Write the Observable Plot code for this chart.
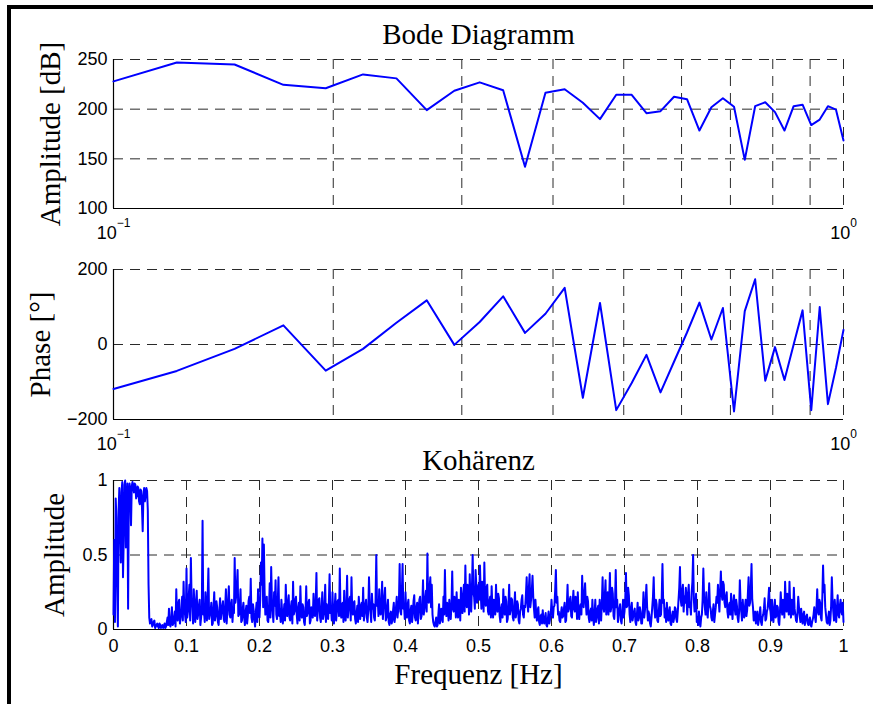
<!DOCTYPE html>
<html><head><meta charset="utf-8">
<script src="https://cdn.jsdelivr.net/npm/d3@7"></script>
<script src="https://cdn.jsdelivr.net/npm/@observablehq/plot@0.6"></script>
<style>
body{margin:0;background:#fff;}
#wrap{position:relative;width:873px;height:704px;overflow:hidden;background:#fff;}
#frame{position:absolute;left:7px;top:5px;right:0;bottom:0;border-left:4px solid #000;border-top:4px solid #000;}
.panel{position:absolute;left:0;}
.panel svg{overflow:visible;}
</style></head><body>
<div id="wrap"><div id="frame"></div>
<div class="panel" id="p1" style="top:0px"></div>
<div class="panel" id="p2" style="top:250px"></div>
<div class="panel" id="p3" style="top:440px"></div>
</div>
<script>
// ---- data ----
const bodeFreq = [0.1, 0.1221, 0.1465, 0.1709, 0.1953, 0.2197, 0.2441, 0.2686, 0.2930, 0.3174, 0.3418, 0.3662, 0.3906, 0.4150, 0.4395, 0.4639, 0.4883, 0.5127, 0.5371, 0.5615, 0.5859, 0.6104, 0.6348, 0.6592, 0.6836, 0.7080, 0.7324, 0.7568, 0.7813, 0.8057, 0.8301, 0.8545, 0.8789, 0.9033, 0.9277, 0.9521, 0.9766, 1.0];
const ampDb = [228, 247, 245, 224.5, 221, 235, 231, 199, 218.5, 227, 219, 142, 216.5, 220, 206.5, 190, 214.5, 214.5, 196, 198, 212.5, 210, 178.5, 202, 211, 202.5, 149, 203, 207, 197, 178.5, 203, 204.5, 184, 189.5, 203, 199.5, 168.5];
const phaseDeg = [-118.7, -70.5, -11.6, 51, -69.6, -11.6, 58, 117.8, -1, 60, 128.5, 31, 82, 151, -142, 110.6, -175, -102.6, -27.6, -127.6, -46, 32, 111.6, 13.4, 97.3, -178.5, 89, 174, -96.4, -7, -94.6, 0, 91, -175, 100, -159, -62, 39];

const cohStep = 0.001;
const cohValues = [
0.10,0.60,0.05,0.88,0.75,0.30,0.02,0.80,0.95,0.70,0.45,0.92,0.99,0.35,0.60,0.97,1.00,0.55,0.85,0.98,0.14,0.90,0.98,0.93,0.70,0.96,0.99,0.95,0.92,0.98,0.97,0.88,0.90,0.96,0.95,0.86,0.84,0.94,0.93,0.82,0.66,0.90,0.95,0.86,0.90,0.95,0.93,0.80,0.30,0.08,
0.04,0.06,0.07,0.02,0.03,0.05,0.06,0.01,0.02,0.03,0.04,0.02,0.01,0.04,0.03,0.01,0.02,0.03,0.01,0.02,0.04,0.01,0.02,0.05,0.08,0.03,0.14,0.04,0.02,0.06,0.15,0.03,0.04,0.08,0.12,0.02,0.27,0.10,0.06,0.18,0.20,0.04,0.08,0.12,0.22,0.06,0.32,0.14,0.10,0.05,
0.41,0.08,0.12,0.22,0.30,0.06,0.48,0.20,0.15,0.04,0.27,0.14,0.05,0.18,0.26,0.07,0.10,0.16,0.20,0.03,0.08,0.15,0.73,0.10,0.12,0.05,0.25,0.14,0.06,0.22,0.41,0.07,0.10,0.12,0.18,0.03,0.04,0.15,0.25,0.06,0.09,0.19,0.15,0.05,0.03,0.12,0.21,0.07,0.11,0.16,
0.19,0.07,0.05,0.15,0.27,0.04,0.12,0.20,0.29,0.10,0.08,0.17,0.20,0.05,0.14,0.11,0.48,0.18,0.22,0.30,0.40,0.09,0.10,0.16,0.27,0.05,0.06,0.14,0.18,0.08,0.03,0.12,0.16,0.04,0.09,0.19,0.22,0.11,0.34,0.08,0.05,0.17,0.13,0.06,0.02,0.12,0.18,0.05,0.27,0.10,
0.08,0.20,0.45,0.30,0.61,0.15,0.57,0.25,0.10,0.18,0.22,0.06,0.05,0.14,0.31,0.08,0.42,0.20,0.12,0.05,0.25,0.16,0.33,0.10,0.07,0.18,0.35,0.09,0.14,0.05,0.20,0.12,0.04,0.10,0.17,0.06,0.30,0.14,0.09,0.18,0.23,0.08,0.06,0.15,0.19,0.04,0.32,0.10,0.12,0.20,
0.22,0.10,0.04,0.14,0.18,0.06,0.29,0.12,0.08,0.17,0.15,0.05,0.03,0.12,0.29,0.09,0.11,0.18,0.20,0.04,0.06,0.15,0.14,0.08,0.24,0.11,0.09,0.19,0.38,0.06,0.13,0.20,0.21,0.08,0.05,0.14,0.25,0.07,0.10,0.16,0.30,0.05,0.17,0.09,0.07,0.18,0.37,0.11,0.15,0.06,
0.25,0.08,0.04,0.15,0.24,0.06,0.12,0.19,0.20,0.09,0.41,0.12,0.08,0.17,0.18,0.05,0.26,0.10,0.06,0.16,0.36,0.08,0.14,0.20,0.22,0.06,0.35,0.13,0.10,0.18,0.19,0.07,0.04,0.11,0.16,0.05,0.22,0.14,0.07,0.16,0.18,0.09,0.28,0.06,0.11,0.17,0.20,0.08,0.05,0.13,
0.35,0.18,0.12,0.05,0.24,0.14,0.17,0.08,0.06,0.20,0.50,0.16,0.20,0.09,0.27,0.12,0.10,0.19,0.32,0.07,0.15,0.22,0.28,0.06,0.08,0.15,0.20,0.05,0.03,0.10,0.12,0.04,0.06,0.13,0.18,0.05,0.09,0.15,0.22,0.08,0.13,0.19,0.44,0.12,0.10,0.25,0.44,0.14,0.16,0.07,
0.25,0.12,0.08,0.17,0.20,0.06,0.04,0.13,0.16,0.05,0.10,0.19,0.23,0.08,0.06,0.15,0.18,0.04,0.12,0.20,0.22,0.07,0.09,0.16,0.33,0.10,0.14,0.21,0.26,0.12,0.51,0.20,0.18,0.28,0.35,0.15,0.30,0.10,0.05,0.03,0.02,0.05,0.08,0.02,0.03,0.10,0.17,0.04,0.06,0.14,
0.12,0.05,0.22,0.10,0.40,0.15,0.09,0.18,0.16,0.06,0.20,0.11,0.07,0.17,0.39,0.14,0.12,0.22,0.20,0.08,0.25,0.13,0.08,0.20,0.18,0.06,0.28,0.15,0.11,0.24,0.30,0.12,0.43,0.20,0.15,0.30,0.26,0.10,0.37,0.18,0.12,0.28,0.50,0.25,0.22,0.14,0.40,0.30,0.18,0.26,
0.30,0.20,0.43,0.25,0.14,0.32,0.28,0.12,0.45,0.22,0.16,0.28,0.30,0.12,0.10,0.19,0.22,0.08,0.29,0.15,0.08,0.20,0.18,0.10,0.30,0.16,0.12,0.24,0.21,0.09,0.05,0.14,0.17,0.08,0.27,0.13,0.10,0.22,0.19,0.05,0.07,0.16,0.30,0.10,0.13,0.21,0.20,0.08,0.06,0.15,
0.25,0.08,0.11,0.19,0.17,0.06,0.04,0.12,0.14,0.20,0.23,0.10,0.08,0.16,0.15,0.24,0.35,0.18,0.12,0.28,0.37,0.15,0.20,0.26,0.36,0.22,0.14,0.08,0.20,0.11,0.06,0.13,0.15,0.05,0.03,0.09,0.10,0.04,0.13,0.06,0.04,0.08,0.11,0.03,0.02,0.07,0.12,0.04,0.07,0.10,
0.20,0.12,0.08,0.15,0.16,0.26,0.40,0.18,0.22,0.10,0.12,0.06,0.05,0.11,0.15,0.08,0.09,0.14,0.18,0.05,0.06,0.16,0.30,0.12,0.14,0.20,0.22,0.09,0.08,0.18,0.26,0.14,0.12,0.22,0.19,0.07,0.25,0.13,0.07,0.15,0.17,0.10,0.36,0.20,0.15,0.24,0.31,0.18,0.10,0.22,
0.19,0.08,0.05,0.12,0.14,0.06,0.20,0.09,0.03,0.10,0.20,0.05,0.08,0.14,0.16,0.04,0.20,0.12,0.06,0.18,0.35,0.15,0.12,0.22,0.33,0.10,0.18,0.25,0.10,0.20,0.38,0.12,0.15,0.28,0.24,0.09,0.07,0.18,0.40,0.15,0.20,0.05,0.10,0.14,0.17,0.06,0.04,0.11,0.20,0.08,
0.12,0.20,0.38,0.15,0.16,0.28,0.23,0.10,0.05,0.14,0.18,0.06,0.09,0.12,0.14,0.05,0.03,0.10,0.18,0.06,0.08,0.15,0.12,0.04,0.04,0.12,0.25,0.08,0.13,0.20,0.30,0.15,0.06,0.12,0.10,0.04,0.02,0.08,0.15,0.22,0.35,0.14,0.08,0.20,0.17,0.06,0.05,0.12,0.20,0.09,
0.10,0.22,0.44,0.18,0.20,0.08,0.14,0.05,0.18,0.10,0.06,0.12,0.15,0.04,0.03,0.09,0.12,0.05,0.08,0.15,0.14,0.07,0.05,0.12,0.20,0.28,0.42,0.20,0.16,0.26,0.30,0.12,0.22,0.18,0.28,0.20,0.10,0.24,0.30,0.15,0.18,0.10,0.25,0.32,0.50,0.20,0.12,0.14,0.24,0.05,
0.06,0.03,0.12,0.05,0.02,0.08,0.10,0.20,0.41,0.22,0.15,0.10,0.25,0.12,0.08,0.18,0.31,0.16,0.14,0.08,0.06,0.12,0.17,0.05,0.10,0.15,0.22,0.18,0.30,0.20,0.12,0.26,0.39,0.24,0.20,0.32,0.30,0.18,0.15,0.22,0.25,0.12,0.08,0.16,0.18,0.10,0.24,0.14,0.07,0.18,
0.23,0.14,0.10,0.20,0.16,0.08,0.05,0.12,0.33,0.18,0.12,0.06,0.20,0.10,0.08,0.15,0.20,0.09,0.13,0.24,0.35,0.16,0.18,0.28,0.44,0.20,0.15,0.06,0.10,0.12,0.04,0.08,0.12,0.03,0.06,0.10,0.15,0.05,0.03,0.08,0.10,0.14,0.21,0.06,0.07,0.12,0.14,0.20,0.28,0.15,
0.12,0.06,0.20,0.10,0.05,0.14,0.20,0.08,0.09,0.16,0.15,0.05,0.03,0.12,0.25,0.15,0.10,0.20,0.18,0.08,0.32,0.18,0.12,0.24,0.20,0.10,0.32,0.16,0.08,0.20,0.15,0.10,0.28,0.14,0.10,0.06,0.05,0.12,0.22,0.15,0.09,0.05,0.14,0.08,0.04,0.10,0.12,0.03,0.06,0.09,
0.10,0.04,0.03,0.06,0.08,0.03,0.02,0.05,0.07,0.10,0.15,0.08,0.05,0.14,0.27,0.12,0.10,0.20,0.18,0.08,0.06,0.22,0.43,0.25,0.30,0.15,0.10,0.05,0.04,0.08,0.12,0.03,0.06,0.15,0.35,0.20,0.12,0.06,0.20,0.12,0.05,0.14,0.23,0.10,0.08,0.16,0.20,0.12,0.10,0.18,
0.05];

const logGridX = [0.2, 0.3, 0.4, 0.5, 0.6, 0.7, 0.8, 0.9, 1];
const decadeTicks = [0.1, 1];
const decadeExps = ["\u22121", "0"];
const ampTicks = [100, 150, 200, 250];
const ampGridY = [150, 200, 250];
const phaseTicks = [-200, 0, 200];
const phaseGridY = [0, 200];
const cohXTicks = [0, 0.1, 0.2, 0.3, 0.4, 0.5, 0.6, 0.7, 0.8, 0.9, 1];
const cohGridX = [0.1, 0.2, 0.3, 0.4, 0.5, 0.6, 0.7, 0.8, 0.9, 1];
const cohYTicks = [0, 0.5, 1];
const cohGridY = [0.5, 1];

// ---- styles ----
const serif = "'Liberation Serif', 'DejaVu Serif', serif";
const sans = "'Liberation Sans', Arial, sans-serif";
const grid = {stroke: "#2a2a2a", strokeWidth: 1, strokeDasharray: "10,7"};
const blue = "#0000ff";
const svgStyle = {fontFamily: sans, fontSize: "18px", color: "#000", background: "none", overflow: "visible"};

const ampRows = bodeFreq.map((f, i) => ({f, v: ampDb[i]}));
const phaseRows = bodeFreq.map((f, i) => ({f, v: phaseDeg[i]}));
const cohRows = cohValues.map((v, i) => ({f: i * cohStep, v}));

function decadeMark() {
  return Plot.text(decadeTicks, {x: d => d, text: () => "10", frameAnchor: "bottom", lineAnchor: "bottom",
    textAnchor: "middle", dy: 30, fontSize: 18, fontFamily: sans, fill: "#000", ariaLabel: "decade"});
}
function addExponents(svg) {
  const texts = Array.from(svg.querySelectorAll("text")).filter(t => t.textContent === "10");
  texts.forEach((t, i) => {
    d3.select(t).append("tspan").attr("dy", -12).attr("font-size", 12).text(decadeExps[i] ?? "");
  });
}
function yLabel(t, dx) {
  return Plot.text([t], {text: d => d, frameAnchor: "left", rotate: -90, textAnchor: "middle", lineAnchor: "middle", dx,
    fontSize: 29, fontFamily: serif, fill: "#000"});
}

// ---- Panel 1: amplitude ----
const p1 = Plot.plot({
  width: 873, height: 250, marginLeft: 113, marginRight: 30, marginTop: 59, marginBottom: 42,
  style: svgStyle,
  x: {type: "log", domain: [0.1, 1], axis: null},
  y: {domain: [100, 250]},
  marks: [
    Plot.ruleX(logGridX, grid),
    Plot.ruleY(ampGridY, grid),
    Plot.ruleX([0.1], {stroke: "#000", strokeWidth: 1.2}),
    Plot.ruleY([100], {stroke: "#000", strokeWidth: 1.2}),
    Plot.axisY(ampTicks, {tickSize: 0, tickPadding: 6, label: null, fontSize: 18, fontFamily: sans}),
    Plot.line(ampRows, {x: "f", y: "v", stroke: blue, strokeWidth: 2}),
    decadeMark(),
    Plot.text(["Bode Diagramm"], {text: d => d, frameAnchor: "top", lineAnchor: "bottom", dy: -16,
      fontSize: 29, fontFamily: serif, fill: "#000"}),
    yLabel("Amplitude [dB]", -63)
  ]
});
addExponents(p1);
document.getElementById("p1").appendChild(p1);

// ---- Panel 2: phase ----
const p2 = Plot.plot({
  width: 873, height: 190, marginLeft: 113, marginRight: 30, marginTop: 19, marginBottom: 21,
  style: svgStyle,
  x: {type: "log", domain: [0.1, 1], axis: null},
  y: {domain: [-200, 200]},
  marks: [
    Plot.ruleX(logGridX, grid),
    Plot.ruleY(phaseGridY, grid),
    Plot.ruleX([0.1], {stroke: "#000", strokeWidth: 1.2}),
    Plot.ruleY([-200], {stroke: "#000", strokeWidth: 1.2}),
    Plot.axisY(phaseTicks, {tickSize: 0, tickPadding: 6, label: null, fontSize: 18, fontFamily: sans}),
    Plot.line(phaseRows, {x: "f", y: "v", stroke: blue, strokeWidth: 2}),
    decadeMark(),
    yLabel("Phase [\u00b0]", -73)
  ]
});
addExponents(p2);
document.getElementById("p2").appendChild(p2);

// ---- Panel 3: coherence ----
const p3 = Plot.plot({
  width: 873, height: 264, marginLeft: 113, marginRight: 30, marginTop: 40, marginBottom: 75,
  style: svgStyle,
  x: {domain: [0, 1]},
  y: {domain: [0, 1]},
  marks: [
    Plot.ruleX(cohGridX, grid),
    Plot.ruleY(cohGridY, grid),
    Plot.ruleX([0], {stroke: "#000", strokeWidth: 1.2}),
    Plot.ruleY([0], {stroke: "#000", strokeWidth: 1.2}),
    Plot.axisY(cohYTicks, {tickSize: 0, tickPadding: 6, label: null, tickFormat: d => String(d), fontSize: 18, fontFamily: sans}),
    Plot.axisX(cohXTicks, {tickSize: 0, tickPadding: 10, label: null, tickFormat: d => String(d), fontSize: 18, fontFamily: sans}),
    Plot.line(cohRows, {x: "f", y: "v", stroke: blue, strokeWidth: 2}),
    Plot.text(["Koh\u00e4renz"], {text: d => d, frameAnchor: "top", lineAnchor: "bottom", dy: -11,
      fontSize: 29, fontFamily: serif, fill: "#000"}),
    Plot.text(["Frequenz [Hz]"], {text: d => d, frameAnchor: "bottom", lineAnchor: "bottom", dy: 54,
      fontSize: 29, fontFamily: serif, fill: "#000"}),
    yLabel("Amplitude", -59)
  ]
});
document.getElementById("p3").appendChild(p3);
</script>
</body></html>
